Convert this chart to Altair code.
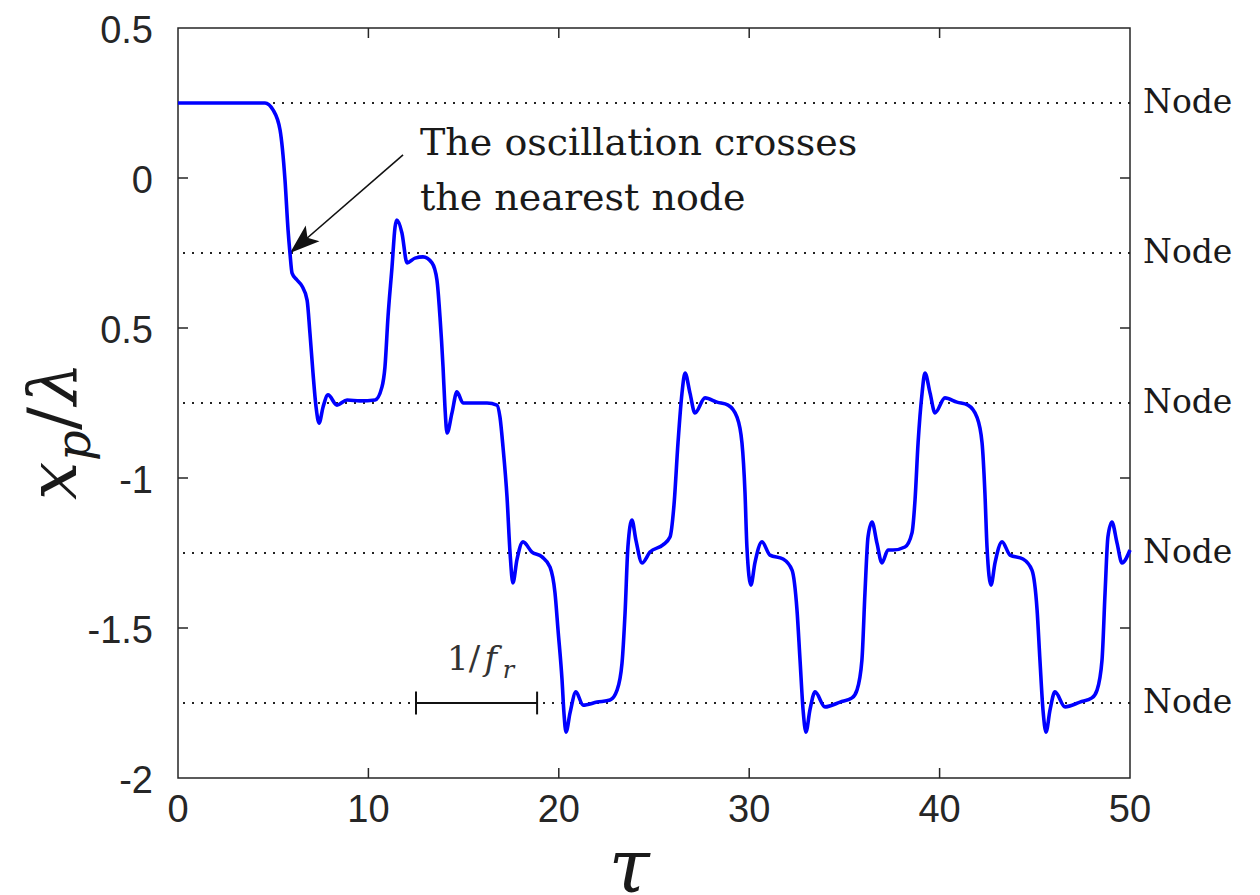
import altair as alt
import pandas as pd

# ---- curve x_p/lambda versus tau ----
tau = [
    0, 4.57, 4.99, 5.36, 5.62, 5.78, 5.88, 5.99, 6.25, 6.51,
    6.78, 6.93, 7.09, 7.25, 7.41, 7.62, 7.88, 8.35, 8.88, 9.56,
    10.35, 10.71, 10.87, 11.03, 11.24, 11.40, 11.50, 11.76, 12.03, 12.45,
    12.87, 13.34, 13.60, 13.76, 13.92, 14.02, 14.13, 14.39, 14.65, 14.97,
    15.49, 16.23, 16.75,
    16.91, 17.07, 17.28, 17.44, 17.59, 17.80, 18.12, 18.59, 19.12, 19.54,
    19.80, 19.96, 20.17, 20.27, 20.38, 20.59, 20.90, 21.27, 22.01, 22.69,
    23.06, 23.32, 23.48, 23.63, 23.84, 24.05, 24.37, 24.79, 25.47, 25.84,
    26.05, 26.26, 26.47, 26.63,
    26.89, 27.15, 27.68, 28.31, 28.89, 29.36, 29.62, 29.78, 29.88, 30.09,
    30.30, 30.67, 31.09, 31.78, 32.25, 32.51, 32.67, 32.83, 32.98, 33.19,
    33.46, 33.98, 34.77, 35.40, 35.66, 35.92, 36.08, 36.24, 36.45, 36.71,
    36.97, 37.29,
    37.55, 38.18, 38.55, 38.71, 38.87, 39.08, 39.23, 39.50, 39.76, 40.28,
    40.91, 41.49, 41.96, 42.23, 42.38, 42.49, 42.70, 42.91, 43.28, 43.70,
    44.38, 44.85, 45.12, 45.27, 45.43, 45.59, 45.80, 46.06, 46.59, 47.37,
    48.00, 48.27, 48.53, 48.69, 48.84, 49.05, 49.32, 49.58, 50.0,
]
xp = [
    0.25, 0.25, 0.227, 0.16, -0.007, -0.173, -0.25, -0.317, -0.34, -0.36,
    -0.407, -0.517, -0.65, -0.763, -0.817, -0.763, -0.723, -0.757, -0.74, -0.743,
    -0.74, -0.697, -0.63, -0.463, -0.297, -0.163, -0.14, -0.183, -0.283, -0.267,
    -0.263, -0.283, -0.34, -0.463, -0.63, -0.763, -0.85, -0.783, -0.713, -0.75,
    -0.75, -0.75, -0.757,
    -0.797, -0.897, -1.063, -1.25, -1.35, -1.273, -1.213, -1.247, -1.263, -1.297,
    -1.383, -1.507, -1.673, -1.783, -1.847, -1.783, -1.713, -1.757, -1.747, -1.74,
    -1.707, -1.617, -1.45, -1.23, -1.14, -1.207, -1.283, -1.247, -1.223, -1.197,
    -1.09, -0.883, -0.717, -0.65,
    -0.717, -0.783, -0.733, -0.747, -0.757, -0.797, -0.883, -1.05, -1.23, -1.357,
    -1.283, -1.213, -1.257, -1.27, -1.307, -1.44, -1.607, -1.773, -1.847, -1.773,
    -1.713, -1.763, -1.747, -1.733, -1.707, -1.607, -1.383, -1.197, -1.147, -1.217,
    -1.283, -1.24,
    -1.24, -1.23, -1.183, -1.073, -0.883, -0.717, -0.65, -0.717, -0.783, -0.733,
    -0.747, -0.757, -0.797, -0.883, -1.05, -1.23, -1.357, -1.283, -1.213, -1.257,
    -1.27, -1.307, -1.44, -1.607, -1.773, -1.847, -1.773, -1.713, -1.763, -1.747,
    -1.733, -1.707, -1.607, -1.383, -1.197, -1.147, -1.217, -1.283, -1.24,
]

node_levels = [0.25, -0.25, -0.75, -1.25, -1.75]
node_text = "Node"

x_ticks = [0, 10, 20, 30, 40, 50]
x_tick_labels = ["0", "10", "20", "30", "40", "50"]
y_ticks = [-2, -1.5, -1, -0.5, 0, 0.5]
y_tick_labels = ["-2", "-1.5", "-1", "0.5", "0", "0.5"]

annot_lines = ["The oscillation crosses", "the nearest node"]
annot_tau = [12.71, 12.71]
annot_val = [0.077, -0.107]

arrow_tail = [11.82, 0.077]
arrow_tip = [5.88, -0.25]

period_tau = [12.5, 18.86]
period_level = -1.75
period_half = 0.038

# pieces of the "1/f_r" label
fr_text = ["1/", "f", "r"]
fr_tau = [14.13, 16.1, 17.05]
fr_val = [-1.64, -1.64, -1.667]

x_title = "τ"
x_title_tau = 23.7

# ---- scales ----
xs = alt.Scale(domain=[0, 50], nice=False, zero=False)
ys = alt.Scale(domain=[-2, 0.5], nice=False, zero=False)

W, H = 952, 750
ink = "#262626"

df_curve = pd.DataFrame({"tau": tau, "xp": xp})
df_nodes = pd.DataFrame({"level": node_levels, "name": [node_text] * len(node_levels),
                         "edge": [x_ticks[-1]] * len(node_levels)})
df_yt = pd.DataFrame({"t": y_ticks[1:-1]})
df_xt = pd.DataFrame({"t": x_ticks[1:-1]})
df_xl = pd.DataFrame({"t": x_ticks, "lab": x_tick_labels})
df_yl = pd.DataFrame({"t": y_ticks, "lab": y_tick_labels})
df_annot = pd.DataFrame({"tau": annot_tau, "val": annot_val, "line": annot_lines})
df_arrow = pd.DataFrame({"x0": [arrow_tail[0]], "y0": [arrow_tail[1]],
                         "x1": [arrow_tip[0]], "y1": [arrow_tip[1]]})
df_period = pd.DataFrame({"a": [period_tau[0]], "b": [period_tau[1]], "lv": [period_level]})
df_pticks = pd.DataFrame({"t": period_tau, "lo": [period_level - period_half] * 2,
                          "hi": [period_level + period_half] * 2})
df_fr = pd.DataFrame({"txt": fr_text, "tau": fr_tau, "val": fr_val})
df_xtitle = pd.DataFrame({"tau": [x_title_tau], "txt": [x_title]})
df_one = pd.DataFrame({"k": [1]})

X = lambda f: alt.X(f, scale=xs, axis=None)
Y = lambda f: alt.Y(f, scale=ys, axis=None)

nodes = alt.Chart(df_nodes).mark_rule(color="#222222", strokeWidth=1.9, strokeDash=[2, 7]).encode(
    y=Y("level:Q")
)
node_labels = alt.Chart(df_nodes).mark_text(
    align="left", baseline="middle", dx=13, font="DejaVu Serif", fontSize=33, color="#1a1a1a"
).encode(x=X("edge:Q"), y=Y("level:Q"), text="name:N")

curve = alt.Chart(df_curve).mark_line(color="#0000ff", strokeWidth=3.6, interpolate="monotone").encode(
    x=X("tau:Q"), y=Y("xp:Q")
)

# tick labels
x_labels = alt.Chart(df_xl).mark_text(
    align="center", baseline="alphabetic", font="Liberation Sans", fontSize=38, color=ink
).encode(x=X("t:Q"), y=alt.value(H + 44), text="lab:N")
y_labels = alt.Chart(df_yl).mark_text(
    align="right", baseline="middle", font="Liberation Sans", fontSize=38, color=ink, dx=-25, dy=4
).encode(x=alt.value(0), y=Y("t:Q"), text="lab:N")

tick_style = dict(color=ink, strokeWidth=1.5)
left_ticks = alt.Chart(df_yt).mark_rule(**tick_style).encode(
    y=Y("t:Q"), x=alt.value(0), x2=alt.value(10))
right_ticks = alt.Chart(df_yt).mark_rule(**tick_style).encode(
    y=Y("t:Q"), x=alt.value(W - 10), x2=alt.value(W))
bottom_ticks = alt.Chart(df_xt).mark_rule(**tick_style).encode(
    x=X("t:Q"), y=alt.value(H - 10), y2=alt.value(H))
top_ticks = alt.Chart(df_xt).mark_rule(**tick_style).encode(
    x=X("t:Q"), y=alt.value(0), y2=alt.value(10))

annot = alt.Chart(df_annot).mark_text(
    align="left", baseline="alphabetic", font="DejaVu Serif", fontSize=38, color="#1a1a1a"
).encode(x=X("tau:Q"), y=Y("val:Q"), text="line:N")

arrow_line = alt.Chart(df_arrow).mark_rule(color="#111111", strokeWidth=1.6).encode(
    x=X("x0:Q"), y=Y("y0:Q"), x2="x1:Q", y2="y1:Q",
)
arrow_head = alt.Chart(df_arrow).mark_point(
    shape="M0,0L-0.7,2L0,1.55L0.7,2Z", size=900, filled=True, opacity=1,
    color="#111111", strokeWidth=0, angle=229,
).encode(x=X("x1:Q"), y=Y("y1:Q"))

period_bar = alt.Chart(df_period).mark_rule(color="#111111", strokeWidth=2).encode(
    x=X("a:Q"), x2="b:Q", y=Y("lv:Q")
)
period_ticks = alt.Chart(df_pticks).mark_rule(color="#111111", strokeWidth=2).encode(
    x=X("t:Q"), y=Y("lo:Q"), y2="hi:Q"
)

fr_base = alt.Chart(df_fr).encode(x=X("tau:Q"), y=Y("val:Q"), text="txt:N")
label_1 = fr_base.transform_filter(alt.datum.txt == "1/").mark_text(
    align="left", baseline="alphabetic", font="DejaVu Serif", fontSize=34, color="#333333")
label_f = fr_base.transform_filter(alt.datum.txt == "f").mark_text(
    align="left", baseline="alphabetic", font="DejaVu Serif", fontStyle="italic", fontSize=34,
    color="#333333")
label_r = fr_base.transform_filter(alt.datum.txt == "r").mark_text(
    align="left", baseline="alphabetic", font="DejaVu Serif", fontStyle="italic", fontSize=24,
    color="#333333")

# y title x_p / lambda, rotated
title_style = dict(font="DejaVu Serif", color="#1a1a1a", angle=270, align="left", baseline="alphabetic")
yt_x = alt.Chart(df_one).mark_text(fontStyle="italic", fontSize=68, text="x", **title_style).encode(
    x=alt.value(-102), y=alt.value(472))
yt_p = alt.Chart(df_one).mark_text(fontStyle="italic", fontSize=48, text="p", **title_style).encode(
    x=alt.value(-88), y=alt.value(433))
yt_s = alt.Chart(df_one).mark_text(fontSize=68, text="/", **title_style).encode(
    x=alt.value(-102), y=alt.value(402))
yt_l = alt.Chart(df_one).mark_text(fontStyle="italic", fontSize=68, text="λ", **title_style).encode(
    x=alt.value(-102), y=alt.value(377))

xt = alt.Chart(df_xtitle).mark_text(
    font="DejaVu Serif", fontStyle="italic", fontSize=74, color="#1a1a1a",
    align="center", baseline="alphabetic"
).encode(x=X("tau:Q"), y=alt.value(H + 114), text="txt:N")

chart = alt.layer(
    nodes, node_labels, left_ticks, right_ticks, bottom_ticks, top_ticks,
    x_labels, y_labels,
    period_bar, period_ticks, label_1, label_f, label_r,
    arrow_line, arrow_head, annot, curve,
    yt_x, yt_p, yt_s, yt_l, xt,
).properties(
    width=W, height=H,
    padding={"left": 170, "top": 20, "right": 120, "bottom": 117},
    autosize=alt.AutoSizeParams(type="none"),
).configure_view(stroke=ink, strokeWidth=1.5)

chart.save("out.html", embed_options={"renderer": "svg", "actions": False})
